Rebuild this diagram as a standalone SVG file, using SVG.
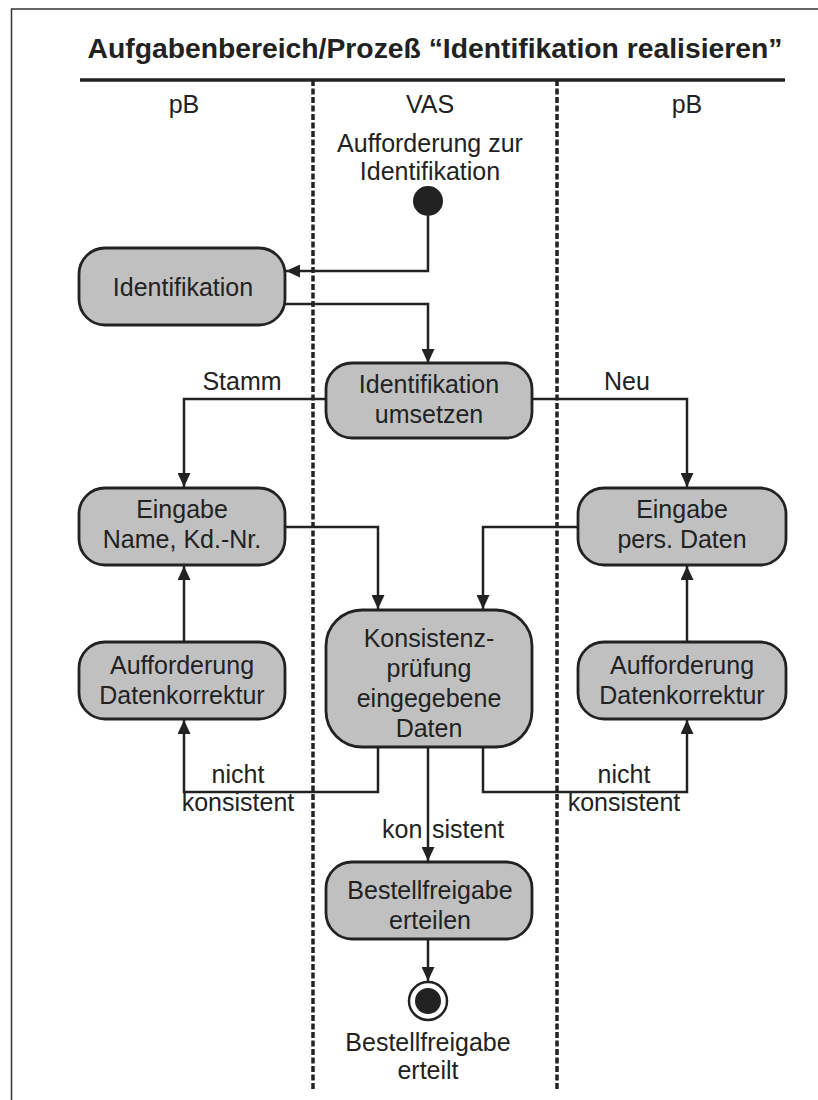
<svg xmlns="http://www.w3.org/2000/svg" width="818" height="1100" viewBox="0 0 818 1100">
<style>
text{font-family:"Liberation Sans",Arial,sans-serif;font-size:25px;fill:#222;text-anchor:middle}
.title{font-weight:bold;font-size:28.3px}
.node{fill:#c0c0c0;stroke:#222;stroke-width:2.8}
.conn{fill:none;stroke:#222;stroke-width:2.5}
.lane{stroke:#222;stroke-width:3.5;stroke-dasharray:6 2.5}
</style>
<defs>
<marker id="ah" viewBox="0 0 14 13" refX="14" refY="6.5" markerWidth="14" markerHeight="13" markerUnits="userSpaceOnUse" orient="auto">
<path d="M0,0 L14,6.5 L0,13 z" fill="#222"/>
</marker>
</defs>
<rect width="818" height="1100" fill="#fff"/>
<path d="M11.5,1100 V9 H818" fill="none" stroke="#333" stroke-width="1.5"/>
<g id="header">
<text class="title" x="435" y="58">Aufgabenbereich/Prozeß “Identifikation realisieren”</text>
<line x1="80" y1="80" x2="785" y2="80" stroke="#222" stroke-width="3.5"/>
<line class="lane" x1="313" y1="80" x2="313" y2="1090"/>
<line class="lane" x1="557" y1="80" x2="557" y2="1090"/>
<text x="184" y="113">pB</text>
<text x="430" y="113">VAS</text>
<text x="687" y="113">pB</text>
</g>
<g id="connectors">
<path class="conn" d="M428,216 V271 H286" marker-end="url(#ah)"/>
<path class="conn" d="M285,304 H428 V363" marker-end="url(#ah)"/>
<path class="conn" d="M326,399 H184 V487" marker-end="url(#ah)"/>
<path class="conn" d="M532,399 H687 V487" marker-end="url(#ah)"/>
<path class="conn" d="M285,527 H378 V609" marker-end="url(#ah)"/>
<path class="conn" d="M578,527 H483 V609" marker-end="url(#ah)"/>
<path class="conn" d="M184,642 V566" marker-end="url(#ah)"/>
<path class="conn" d="M687,642 V566" marker-end="url(#ah)"/>
<path class="conn" d="M378,747 V792 H184 V720" marker-end="url(#ah)"/>
<path class="conn" d="M483,747 V792 H687 V720" marker-end="url(#ah)"/>
<path class="conn" d="M428,747 V861" marker-end="url(#ah)"/>
<path class="conn" d="M428,939 V981" marker-end="url(#ah)"/>
<text x="242" y="390">Stamm</text>
<text x="627" y="390">Neu</text>
<text x="238" y="783">nicht</text>
<text x="238" y="811">konsistent</text>
<text x="624" y="783">nicht</text>
<text x="624" y="811">konsistent</text>
<text x="382" y="838" style="text-anchor:start">kon <tspan x="432">sistent</tspan></text>
</g>
<g id="start">
<text x="430" y="152">Aufforderung zur</text>
<text x="430" y="180">Identifikation</text>
<circle cx="428" cy="201" r="15" fill="#222"/>
</g>
<g id="n_identifikation">
<rect class="node" x="79" y="248" width="206" height="77" rx="26"/>
<text x="183" y="296">Identifikation</text>
</g>
<g id="n_umsetzen">
<rect class="node" x="326" y="363" width="206" height="75" rx="26"/>
<text x="429" y="393">Identifikation</text>
<text x="429" y="423">umsetzen</text>
</g>
<g id="n_eingabe_l">
<rect class="node" x="79" y="488" width="206" height="77" rx="26"/>
<text x="182" y="518">Eingabe</text>
<text x="182" y="548">Name, Kd.-Nr.</text>
</g>
<g id="n_eingabe_r">
<rect class="node" x="578" y="488" width="208" height="77" rx="26"/>
<text x="682" y="518">Eingabe</text>
<text x="682" y="548">pers. Daten</text>
</g>
<g id="n_korrektur_l">
<rect class="node" x="79" y="642" width="206" height="77" rx="26"/>
<text x="182" y="674">Aufforderung</text>
<text x="182" y="704">Datenkorrektur</text>
</g>
<g id="n_korrektur_r">
<rect class="node" x="578" y="642" width="208" height="77" rx="26"/>
<text x="682" y="674">Aufforderung</text>
<text x="682" y="704">Datenkorrektur</text>
</g>
<g id="n_konsistenz">
<rect class="node" x="326" y="610" width="206" height="137" rx="36"/>
<text x="429" y="647">Konsistenz-</text>
<text x="429" y="677">prüfung</text>
<text x="429" y="707">eingegebene</text>
<text x="429" y="737">Daten</text>
</g>
<g id="n_bestellfreigabe">
<rect class="node" x="326" y="862" width="206" height="77" rx="26"/>
<text x="430" y="899">Bestellfreigabe</text>
<text x="430" y="929">erteilen</text>
</g>
<g id="end">
<circle cx="428" cy="1001" r="19" fill="#fff" stroke="#222" stroke-width="2.5"/>
<circle cx="428" cy="1001" r="13" fill="#222"/>
<text x="428" y="1051">Bestellfreigabe</text>
<text x="428" y="1079">erteilt</text>
</g>
</svg>
